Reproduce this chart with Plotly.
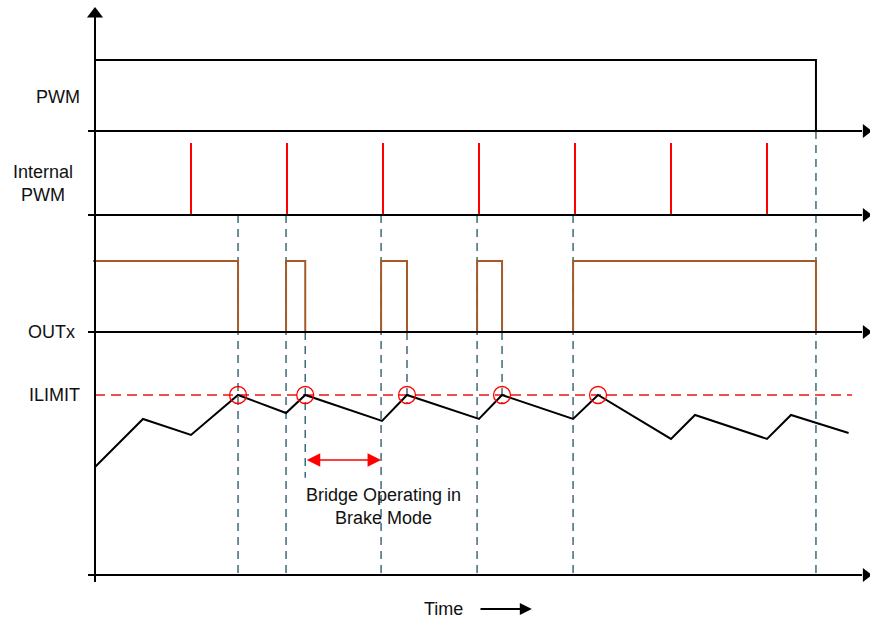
import plotly.graph_objects as go

# ---------------- data (time in internal-PWM periods) ----------------
internal_pwm_pulses = [1, 2, 3, 4, 5, 6, 7]
pwm_times = [0, 7.51]
pwm_levels = [1, 0]

outx_times = [-0.02, 1.49, 1.99, 2.19, 2.98, 3.25, 3.98, 4.24, 4.98, 7.51]
outx_levels = [1, 0, 1, 0, 1, 0, 1, 0, 1, 0]

current_times = [0, 0.5, 1.0, 1.49, 1.99, 2.19, 2.99, 3.25, 4.0, 4.24, 4.98, 5.24,
                 6.0, 6.25, 7.0, 7.25, 7.85]
current_rel = [0.60, 0.867, 0.778, 1.0, 0.90, 1.0, 0.856, 1.0, 0.867, 1.0, 0.867, 1.0,
               0.756, 0.889, 0.756, 0.889, 0.789]  # fraction of ILIMIT

ilimit_hits = [1.49, 2.19, 3.25, 4.24, 5.24]
full_guides = [1.49, 1.99, 2.98, 3.98, 4.98]     # from Internal PWM axis to time axis
pwm_guide = 7.51                                # from PWM axis to time axis
short_guides = [2.19, 3.25, 4.24]               # from OUTx axis downward
short_guide_depth = [0.54, 0.95, 0.95]          # bottom, as fraction of ILIMIT
brake_span = [2.19, 2.98]

lane_labels = ["PWM", "Internal<br>PWM", "OUTx", "ILIMIT"]

# ---------------- layout constants (vertical units, time axis = 0) ----------------
PWM_BASE, PWM_AMP = 444, 71
INT_BASE, INT_AMP = 360, 72
OUT_BASE, OUT_AMP = 243, 71
ILIMIT_Y = 180
AXIS_TOP = 567
X0, X1 = -95 / 96, 775 / 96
Y0, Y1 = -44, 575
AX_LEFT = -0.073
AX_RIGHT = 7.99

FONT = "Liberation Sans, Arial, sans-serif"
GUIDE = dict(color="#3e6b7b", width=1.5, dash="8px,6px")

fig = go.Figure()

# guides
for t in full_guides:
    fig.add_trace(go.Scatter(x=[t, t], y=[INT_BASE, 0], mode="lines", line=GUIDE))
fig.add_trace(go.Scatter(x=[pwm_guide, pwm_guide], y=[PWM_BASE, 0], mode="lines", line=GUIDE))
for t, d in zip(short_guides, short_guide_depth):
    fig.add_trace(go.Scatter(x=[t, t], y=[OUT_BASE, d * ILIMIT_Y], mode="lines", line=GUIDE))

# ILIMIT dashed line
fig.add_trace(go.Scatter(x=[0, 7.885], y=[ILIMIT_Y, ILIMIT_Y], mode="lines",
                         line=dict(color="#ee1111", width=1.3, dash="10px,6px")))

# PWM
fig.add_trace(go.Scatter(x=pwm_times, y=[PWM_BASE + v * PWM_AMP for v in pwm_levels],
                         mode="lines", line=dict(color="black", width=2, shape="hv")))

# Internal PWM pulses
px, py = [], []
for t in internal_pwm_pulses:
    px += [t, t, None]
    py += [INT_BASE, INT_BASE + INT_AMP, None]
fig.add_trace(go.Scatter(x=px, y=py, mode="lines", line=dict(color="#ff0000", width=2)))

# OUTx
fig.add_trace(go.Scatter(x=outx_times, y=[OUT_BASE + v * OUT_AMP for v in outx_levels],
                         mode="lines", line=dict(color="#a65a28", width=2, shape="hv")))

# current
fig.add_trace(go.Scatter(x=current_times, y=[v * ILIMIT_Y for v in current_rel],
                         mode="lines", line=dict(color="black", width=2)))

# ILIMIT hit circles
fig.add_trace(go.Scatter(x=ilimit_hits, y=[ILIMIT_Y] * len(ilimit_hits), mode="markers",
                         marker=dict(symbol="circle-open", size=17,
                                     line=dict(color="#ff0000", width=1.3), color="#ff0000")))

# axes
for yb in [PWM_BASE, INT_BASE, OUT_BASE, 0]:
    fig.add_trace(go.Scatter(x=[AX_LEFT, AX_RIGHT], y=[yb, yb], mode="lines",
                             line=dict(color="black", width=2)))
    fig.add_trace(go.Scatter(x=[AX_RIGHT + 0.04], y=[yb], mode="markers", cliponaxis=False,
                             marker=dict(symbol="triangle-right", size=12, color="black")))
fig.add_trace(go.Scatter(x=[0, 0], y=[-7, AXIS_TOP - 8], mode="lines",
                         line=dict(color="black", width=2)))
fig.add_trace(go.Scatter(x=[0], y=[AXIS_TOP - 6], mode="markers", cliponaxis=False,
                         marker=dict(symbol="triangle-up", size=14, color="black")))

# labels
lab_font = dict(family=FONT, size=18, color="#111")
fig.add_annotation(x=-0.135, y=PWM_BASE + 34, text=lane_labels[0], showarrow=False,
                   xanchor="right", yanchor="middle", font=lab_font)
fig.add_annotation(x=-0.54, y=INT_BASE + 32, text=lane_labels[1], showarrow=False,
                   xanchor="center", yanchor="middle", font=lab_font, align="center")
fig.add_annotation(x=-0.185, y=OUT_BASE, text=lane_labels[2], showarrow=False,
                   xanchor="right", yanchor="middle", font=lab_font)
fig.add_annotation(x=-0.135, y=ILIMIT_Y, text=lane_labels[3], showarrow=False,
                   xanchor="right", yanchor="middle", font=lab_font)

# brake-mode arrow and text
fig.add_annotation(x=brake_span[1], y=115, ax=brake_span[0], ay=115, axref="x", ayref="y",
                   showarrow=True, arrowside="end+start", arrowhead=2, arrowsize=1.8,
                   arrowwidth=1.5, arrowcolor="#ff0000", text="")
fig.add_annotation(x=brake_span[1] + 0.02, y=69,
                   text="Bridge Operating in<br>Brake Mode", showarrow=False,
                   xanchor="center", yanchor="middle", font=lab_font, align="center")

# Time label
fig.add_annotation(x=3.625, y=-34, text="Time", showarrow=False, xanchor="center",
                   yanchor="middle", font=lab_font)
fig.add_annotation(x=4.55, y=-34, ax=4.0, ay=-34, axref="x", ayref="y", showarrow=True,
                   arrowhead=2, arrowsize=1.2, arrowwidth=2, arrowcolor="black", text="")

fig.update_layout(
    width=870, height=619, margin=dict(l=0, r=0, t=0, b=0),
    paper_bgcolor="white", plot_bgcolor="white", showlegend=False,
    xaxis=dict(range=[X0, X1], visible=False, fixedrange=True),
    yaxis=dict(range=[Y0, Y1], visible=False, fixedrange=True),
)

fig.write_html("out.html", config={"displayModeBar": False},
               post_script="document.body.style.margin='0';"
                           "document.documentElement.style.overflow='hidden';")
